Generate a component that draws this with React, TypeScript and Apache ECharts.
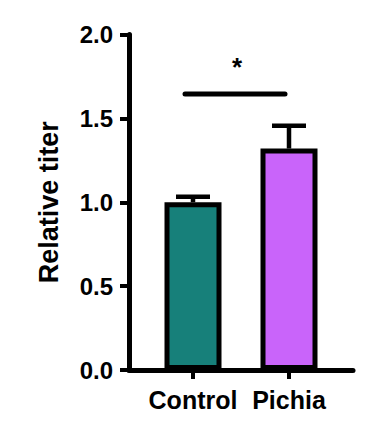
import React, { useEffect, useRef } from "react";
import * as echarts from "echarts";

const categories = ["Control", "Pichia"];
const means = [1.0, 1.32];
const errors = [0.033, 0.136];
const barColors = ["#17807a", "#c964fa"];
const yTicks = { min: 0, max: 2, interval: 0.5 };
const sigLevel = 1.645;
const sigLabel = "*";
const yTitle = "Relative titer";

const FONT = "'Liberation Sans', Arial, sans-serif";

export default function App() {
  const ref = useRef<HTMLDivElement>(null);
  useEffect(() => {
    if (!ref.current) return;
    const chart = echarts.init(ref.current, null, { renderer: "svg" });
    const gridTop = 34.5;
    const gridHeight = 335.5;
    chart.setOption({
      animation: false,
      backgroundColor: "#ffffff",
      grid: [
        { left: 129, top: gridTop, width: 224, height: gridHeight },
        { left: 145, top: gridTop, width: 192, height: gridHeight },
      ],
      xAxis: [
        {
          gridIndex: 0,
          type: "value",
          min: 0,
          max: 1,
          axisLine: { show: true, lineStyle: { color: "#000", width: 5 } },
          axisTick: { show: false },
          axisLabel: { show: false },
          splitLine: { show: false },
        },
        {
          gridIndex: 1,
          type: "category",
          data: categories,
          axisLine: { show: false },
          axisTick: {
            show: true,
            alignWithLabel: true,
            length: 9,
            lineStyle: { color: "#000", width: 4 },
          },
          axisLabel: {
            interval: 0,
            margin: 17,
            color: "#000",
            fontFamily: FONT,
            fontWeight: "bold",
            fontSize: 25,
          },
        },
      ],
      yAxis: [
        {
          gridIndex: 0,
          type: "value",
          min: yTicks.min,
          max: yTicks.max,
          interval: yTicks.interval,
          name: yTitle,
          nameLocation: "middle",
          nameGap: 67,
          nameTextStyle: {
            color: "#000",
            fontFamily: FONT,
            fontWeight: "bold",
            fontSize: 27,
          },
          axisLine: { show: true, lineStyle: { color: "#000", width: 5 } },
          axisTick: { show: true, length: 9, lineStyle: { color: "#000", width: 4 } },
          axisLabel: {
            margin: 16,
            color: "#000",
            fontFamily: FONT,
            fontWeight: "bold",
            fontSize: 24,
            formatter: (v: number) => v.toFixed(1),
          },
          splitLine: { show: false },
        },
        {
          gridIndex: 1,
          type: "value",
          min: yTicks.min,
          max: yTicks.max,
          interval: yTicks.interval,
          show: false,
        },
      ],
      series: [
        {
          type: "bar",
          xAxisIndex: 1,
          yAxisIndex: 1,
          barWidth: 57,
          data: means.map((m, i) => ({
            value: m,
            itemStyle: { color: barColors[i], borderColor: "#000", borderWidth: 5 },
          })),
          z: 2,
        },
        {
          type: "custom",
          xAxisIndex: 1,
          yAxisIndex: 1,
          data: means.map((m, i) => [i, m, m + errors[i]]),
          z: 1,
          renderItem: (params: any, api: any) => {
            const x = api.value(0);
            const base = api.coord([x, api.value(1)]);
            const top = api.coord([x, api.value(2)]);
            const half = 17;
            const style = { stroke: "#000", lineWidth: 4.5 };
            return {
              type: "group",
              children: [
                { type: "line", shape: { x1: base[0], y1: base[1], x2: top[0], y2: top[1] }, style },
                { type: "line", shape: { x1: top[0] - half, y1: top[1], x2: top[0] + half, y2: top[1] }, style },
              ],
            };
          },
        },
        {
          type: "custom",
          xAxisIndex: 1,
          yAxisIndex: 1,
          data: [[0, 1, sigLevel]],
          z: 3,
          renderItem: (params: any, api: any) => {
            const p0 = api.coord([api.value(0), api.value(2)]);
            const p1 = api.coord([api.value(1), api.value(2)]);
            const x1 = p0[0] - 8;
            const x2 = p1[0] - 4;
            return {
              type: "group",
              children: [
                {
                  type: "line",
                  shape: { x1, y1: p0[1], x2, y2: p0[1] },
                  style: { stroke: "#000", lineWidth: 5, lineCap: "round" },
                },
                {
                  type: "text",
                  x: (x1 + x2) / 2 + 2,
                  y: p0[1] - 14,
                  style: {
                    text: sigLabel,
                    fill: "#000",
                    font: `bold 26px ${FONT}`,
                    textAlign: "center",
                    textVerticalAlign: "bottom",
                  },
                },
              ],
            };
          },
        },
      ],
    });
    return () => chart.dispose();
  }, []);
  return (
    <div
      ref={ref}
      style={{ position: "fixed", left: 0, top: 0, width: 382, height: 422 }}
    />
  );
}
